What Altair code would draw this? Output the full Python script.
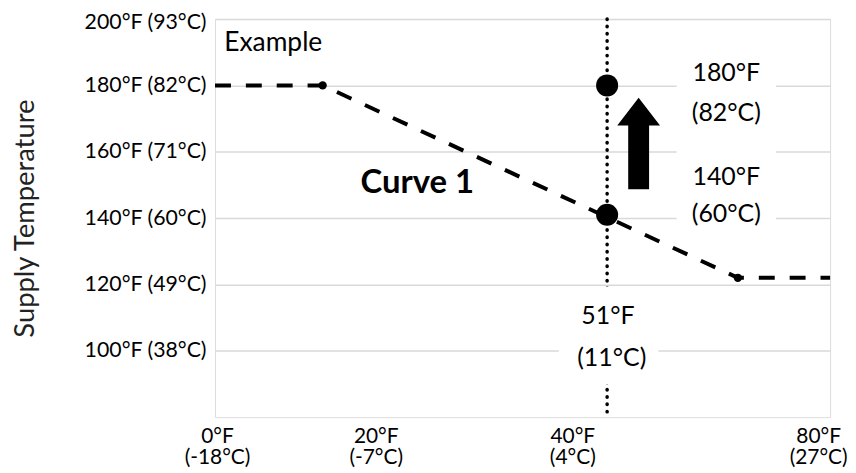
import altair as alt
import pandas as pd

# ---- data ----
curve_x = [0, 14, 68, 80]          # outdoor temperature (°F)
curve_y = [180, 180, 122, 122]     # supply temperature (°F)
break_x = [14, 68]
break_y = [180, 122]
reset_x = [51, 51]
reset_y = [180, 141]
design_x = [51]
y_ticks = [100, 120, 140, 160, 180, 200]
x_ticks = [0, 20, 40, 80]

example_text = ["Example"]
example_x = [1.2]
example_y = [192.8]
curve_label = ["Curve 1"]
curve_label_x = [26.3]
curve_label_y = [150.5]
ann_text = ["180°F", "(82°C)", "140°F", "(60°C)", "51°F", "(11°C)"]
ann_x = [66.5, 66.5, 66.5, 66.5, 51.1, 51.6]
ann_y = [183.8, 171.8, 152.3, 141.2, 110.6, 97.7]
box_a_x, box_a_y = [66.5], [161.9]
box_b_x, box_b_y = [51.2], [104.6]
arrow_x, arrow_y = [55.1], [162.5]

FONT = "Lato"

xscale = alt.Scale(domain=[0, 80], nice=False, zero=False)
yscale = alt.Scale(domain=[80, 200], nice=False, zero=False)

xaxis = alt.Axis(
    values=x_ticks, title=None, grid=False, ticks=False, domain=False,
    labelExpr="[datum.value + '°F', '(' + round((datum.value - 32) * 5 / 9) + '°C)']",
    labelFont=FONT, labelFontSize=21, labelColor="#000", labelLineHeight=21.5,
    labelPadding=8, labelBaseline="top", labelFlush=False, labelOverlap=False,
    labelBound=False,
    labelOffset={"condition": [
        {"test": "datum.value == 20", "value": 7},
        {"test": "datum.value == 40", "value": 50},
        {"test": "datum.value == 80", "value": -12},
    ], "value": 2},
)
yaxis = alt.Axis(
    values=y_ticks, title="Supply Temperature", ticks=False, domain=False,
    labelExpr="datum.value + '°F (' + round((datum.value - 32) * 5 / 9) + '°C)'",
    labelFont=FONT, labelFontSize=21.4, labelColor="#000", labelPadding=9,
    labelOverlap=False, labelFlush=False, labelBound=False,
    labelOffset={"condition": {"test": "datum.value == 200", "value": 4}, "value": 0},
    grid=True, gridColor="#d9d9d9", gridWidth=1.5,
    titleFont=FONT, titleFontSize=27.5, titleFontWeight="normal", titleColor="#222",
    titleAngle=-90, titleX=-190, titleY=200, titleAlign="center", titleBaseline="middle",
)

X = alt.X("x:Q", scale=xscale, axis=xaxis)
Y = alt.Y("y:Q", scale=yscale, axis=yaxis)


def df(xs, ys, texts=None):
    d = {"x": xs, "y": ys}
    if texts is not None:
        d["t"] = texts
    return pd.DataFrame(d)


curve = alt.Chart(df(curve_x, curve_y)).mark_line(
    color="#000", strokeWidth=4, strokeDash=[16, 15]
).encode(x=X, y=Y)

breaks = alt.Chart(df(break_x, break_y)).mark_point(
    filled=True, color="#000", size=70, opacity=1
).encode(x=X, y=Y)

design_rule = alt.Chart(pd.DataFrame({"x": design_x})).mark_rule(
    color="#000", strokeWidth=3.5, strokeDash=[0.5, 6.8], strokeCap="round"
).encode(x=X)

reset_pts = alt.Chart(df(reset_x, reset_y)).mark_point(
    filled=True, color="#000", size=490, opacity=1
).encode(x=X, y=Y)

box_a = alt.Chart(df(box_a_x, box_a_y)).mark_point(
    shape="M-0.571,-1L0.571,-1L0.571,1L-0.571,1Z", filled=True,
    color="white", size=175 * 175, opacity=1
).encode(x=X, y=Y)

box_b = alt.Chart(df(box_b_x, box_b_y)).mark_point(
    shape="M-1,-0.98L1,-0.98L1,0.98L-1,0.98Z", filled=True,
    color="white", size=100 * 100, opacity=1
).encode(x=X, y=Y)

arrow = alt.Chart(df(arrow_x, arrow_y)).mark_point(
    shape="M0,-1L0.467,-0.39L0.228,-0.39L0.228,1L-0.228,1L-0.228,-0.39L-0.467,-0.39Z",
    filled=True, color="#000", size=92 * 92, opacity=1
).encode(x=X, y=Y)

example = alt.Chart(df(example_x, example_y, example_text)).mark_text(
    font=FONT, fontSize=26.5, color="#000", align="left", baseline="middle"
).encode(x=X, y=Y, text="t:N")

curve1 = alt.Chart(df(curve_label_x, curve_label_y, curve_label)).mark_text(
    font=FONT, fontSize=33, fontWeight="bold", color="#000",
    align="center", baseline="middle"
).encode(x=X, y=Y, text="t:N")

ann = alt.Chart(df(ann_x, ann_y, ann_text)).mark_text(
    font=FONT, fontSize=25, color="#000", align="center", baseline="middle"
).encode(x=X, y=Y, text="t:N")

chart = alt.layer(
    curve, breaks, design_rule, reset_pts, box_a, box_b, arrow, example, curve1, ann
).properties(
    width=618, height=400,
    padding={"left": 208, "top": 10, "right": 18, "bottom": 52},
    autosize=alt.AutoSizeParams(type="none"),
).configure_view(
    stroke="#000", strokeWidth=3
).configure(background="white")

chart.save("out.html", embed_options={"renderer": "svg", "actions": False})
